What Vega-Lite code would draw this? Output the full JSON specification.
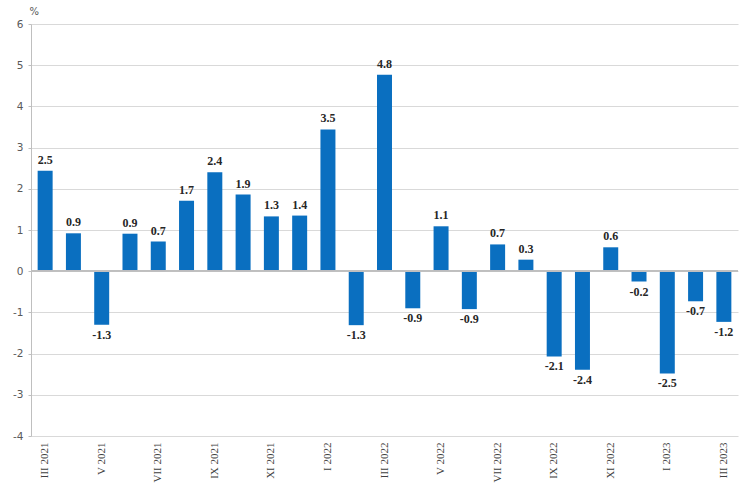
{
  "$schema": "https://vega.github.io/schema/vega-lite/v6.json",
  "width": 707,
  "height": 412,
  "autosize": {"type": "none"},
  "padding": {"left": 31, "top": 24, "right": 2, "bottom": 50},
  "background": "white",
  "config": {"view": {"stroke": null}},
  "data": {"values": [
    {"month": "III 2021", "value": 2.44, "label": "2.5"},
    {"month": "IV 2021", "value": 0.92, "label": "0.9"},
    {"month": "V 2021", "value": -1.3, "label": "-1.3"},
    {"month": "VI 2021", "value": 0.91, "label": "0.9"},
    {"month": "VII 2021", "value": 0.72, "label": "0.7"},
    {"month": "VIII 2021", "value": 1.71, "label": "1.7"},
    {"month": "IX 2021", "value": 2.4, "label": "2.4"},
    {"month": "X 2021", "value": 1.86, "label": "1.9"},
    {"month": "XI 2021", "value": 1.33, "label": "1.3"},
    {"month": "XII 2021", "value": 1.35, "label": "1.4"},
    {"month": "I 2022", "value": 3.44, "label": "3.5"},
    {"month": "II 2022", "value": -1.31, "label": "-1.3"},
    {"month": "III 2022", "value": 4.77, "label": "4.8"},
    {"month": "IV 2022", "value": -0.9, "label": "-0.9"},
    {"month": "V 2022", "value": 1.09, "label": "1.1"},
    {"month": "VI 2022", "value": -0.92, "label": "-0.9"},
    {"month": "VII 2022", "value": 0.65, "label": "0.7"},
    {"month": "VIII 2022", "value": 0.28, "label": "0.3"},
    {"month": "IX 2022", "value": -2.07, "label": "-2.1"},
    {"month": "X 2022", "value": -2.39, "label": "-2.4"},
    {"month": "XI 2022", "value": 0.58, "label": "0.6"},
    {"month": "XII 2022", "value": -0.25, "label": "-0.2"},
    {"month": "I 2023", "value": -2.48, "label": "-2.5"},
    {"month": "II 2023", "value": -0.73, "label": "-0.7"},
    {"month": "III 2023", "value": -1.23, "label": "-1.2"}
  ]},
  "encoding": {
    "x": {
      "field": "month", "type": "nominal", "sort": null,
      "scale": {"paddingInner": 0.47, "paddingOuter": 0.235},
      "axis": {
        "title": null,
        "values": ["III 2021", "V 2021", "VII 2021", "IX 2021", "XI 2021", "I 2022", "III 2022", "V 2022", "VII 2022", "IX 2022", "XI 2022", "I 2023", "III 2023"],
        "labelAngle": -90,
        "labelFont": "Liberation Serif",
        "labelFontSize": 11,
        "labelColor": "#404040",
        "labelPadding": 6,
        "ticks": false,
        "domain": false,
        "grid": false
      }
    },
    "y": {
      "field": "value", "type": "quantitative",
      "scale": {"domain": [-4, 6], "nice": false},
      "axis": {
        "values": [-4, -3, -2, -1, 0, 1, 2, 3, 4, 5, 6],
        "labelExpr": "datum.value < 0 ? '-' + abs(datum.value) : '' + datum.value",
        "title": "%",
        "titleAngle": 0,
        "titleAlign": "left",
        "titleBaseline": "middle",
        "titleX": -2,
        "titleY": -13,
        "titleFont": "DejaVu Sans",
        "titleFontSize": 10,
        "titleFontWeight": "normal",
        "titleColor": "#595959",
        "labelFont": "DejaVu Sans",
        "labelFontSize": 10.5,
        "labelColor": "#595959",
        "labelPadding": 5,
        "tickColor": "#bfbfbf",
        "tickSize": 3,
        "domainColor": "#bfbfbf",
        "gridColor": "#d9d9d9",
        "grid": true
      }
    }
  },
  "layer": [
    {"mark": {"type": "bar", "color": "#0a6fc0"}},
    {"mark": {"type": "rule", "color": "#bfbfbf", "strokeWidth": 1},
     "encoding": {"y": {"datum": 0}, "x": {"value": 0}, "x2": {"value": 707}}},
    {"transform": [{"filter": "datum.value >= 0"}],
     "mark": {"type": "text", "baseline": "bottom", "dy": -4, "font": "Liberation Serif", "fontSize": 12, "fontWeight": "bold", "color": "#262626"},
     "encoding": {"text": {"field": "label"}}},
    {"transform": [{"filter": "datum.value < 0"}],
     "mark": {"type": "text", "baseline": "top", "dy": 5, "font": "Liberation Serif", "fontSize": 12, "fontWeight": "bold", "color": "#262626"},
     "encoding": {"text": {"field": "label"}}}
  ]
}
